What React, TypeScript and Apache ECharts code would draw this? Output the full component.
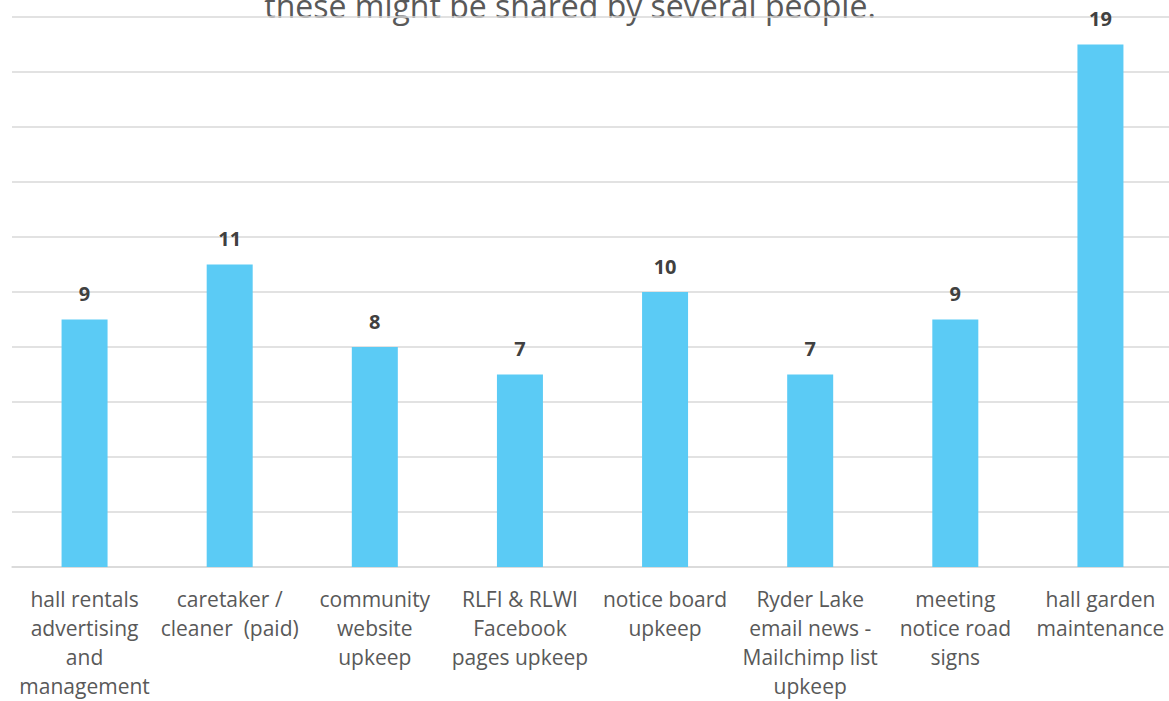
import React, { useEffect, useRef } from "react";
import * as echarts from "echarts";

const categories = [
  "hall rentals\nadvertising\nand\nmanagement",
  "caretaker /\ncleaner  (paid)",
  "community\nwebsite\nupkeep",
  "RLFI & RLWI\nFacebook\npages upkeep",
  "notice board\nupkeep",
  "Ryder Lake\nemail news -\nMailchimp list\nupkeep",
  "meeting\nnotice road\nsigns",
  "hall garden\nmaintenance",
];
const values = [9, 11, 8, 7, 10, 7, 9, 19];
const titleText = "these might be shared by several people.";

export default function App() {
  const ref = useRef<HTMLDivElement>(null);
  useEffect(() => {
    if (!ref.current) return;
    const chart = echarts.init(ref.current, null, { renderer: "svg" });
    const font = "'Open Sans', 'Noto Sans', sans-serif";
    chart.setOption({
      animation: false,
      backgroundColor: "#ffffff",
      textStyle: { fontFamily: font },
      graphic: [
        {
          type: "text",
          x: 570,
          y: -11,
          style: {
            text: titleText,
            fontSize: 32,
            fontFamily: font,
            fill: "#595959",
            textAlign: "center",
            textVerticalAlign: "top",
          },
        },
      ],
      grid: { left: 12, top: 17, bottom: 134, right: 2, containLabel: false },
      xAxis: {
        type: "category",
        data: categories,
        axisLine: { lineStyle: { color: "#d9d9d9", width: 1.5 } },
        axisTick: { show: false },
        axisLabel: {
          interval: 0,
          fontSize: 21,
          lineHeight: 29,
          color: "#595959",
          fontFamily: font,
          margin: 17,
        },
      },
      yAxis: {
        type: "value",
        min: 0,
        max: 20,
        interval: 2,
        axisLabel: { show: false },
        axisLine: { show: false },
        axisTick: { show: false },
        splitLine: { lineStyle: { color: "#d9d9d9", width: 1.5 } },
      },
      series: [
        {
          type: "bar",
          data: values,
          barWidth: 46,
          itemStyle: { color: "#5BCBF5" },
          label: {
            show: true,
            position: "top",
            distance: 16,
            fontSize: 20,
            fontWeight: "bold",
            color: "#404040",
            fontFamily: font,
          },
          z: 3,
        },
      ],
    });
    return () => chart.dispose();
  }, []);
  return (
    <div
      style={{
        position: "fixed",
        left: 0,
        top: 0,
        width: 1169,
        height: 701,
        overflow: "hidden",
      }}
    >
      <div ref={ref} style={{ width: 1175, height: 701 }} />
    </div>
  );
}
